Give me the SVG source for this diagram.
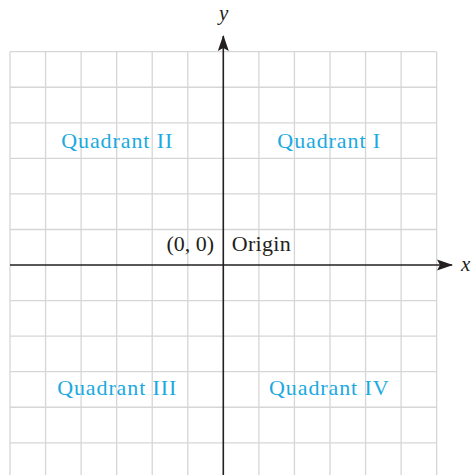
<svg xmlns="http://www.w3.org/2000/svg" width="472" height="475" viewBox="0 0 472 475">
<style>
.grid line{stroke:#d6d6d6;stroke-width:1.3}
.ax{stroke:#231f20;stroke-width:1.6;fill:none}
.q{font-family:"Liberation Serif","Times New Roman",serif;font-size:22px;fill:#1aa9e1;letter-spacing:0.9px;text-anchor:middle}
.t{font-family:"Liberation Serif","Times New Roman",serif;font-size:22px;fill:#231f20}
.v{font-family:"Liberation Serif","Times New Roman",serif;font-size:21px;font-style:italic;fill:#231f20}
</style>
<defs>
<marker id="ah" viewBox="0 0 16 12" refX="15" refY="6" markerWidth="16" markerHeight="12" markerUnits="userSpaceOnUse" orient="auto">
<path d="M0,0.5 L16,6 L0,11.5 L3,6 Z" fill="#231f20"/>
</marker>
</defs>
<rect width="472" height="475" fill="#fff"/>
<g class="grid" id="grid">
<line x1="10" y1="51.7" x2="10" y2="475"/>
<line x1="45.56" y1="51.7" x2="45.56" y2="475"/>
<line x1="81.11" y1="51.7" x2="81.11" y2="475"/>
<line x1="116.67" y1="51.7" x2="116.67" y2="475"/>
<line x1="152.22" y1="51.7" x2="152.22" y2="475"/>
<line x1="187.78" y1="51.7" x2="187.78" y2="475"/>
<line x1="258.89" y1="51.7" x2="258.89" y2="475"/>
<line x1="294.44" y1="51.7" x2="294.44" y2="475"/>
<line x1="330" y1="51.7" x2="330" y2="475"/>
<line x1="365.56" y1="51.7" x2="365.56" y2="475"/>
<line x1="401.11" y1="51.7" x2="401.11" y2="475"/>
<line x1="436.67" y1="51.7" x2="436.67" y2="475"/>
<line x1="10" y1="51.7" x2="436.67" y2="51.7"/>
<line x1="10" y1="87.26" x2="436.67" y2="87.26"/>
<line x1="10" y1="122.81" x2="436.67" y2="122.81"/>
<line x1="10" y1="158.37" x2="436.67" y2="158.37"/>
<line x1="10" y1="193.92" x2="436.67" y2="193.92"/>
<line x1="10" y1="229.48" x2="436.67" y2="229.48"/>
<line x1="10" y1="300.59" x2="436.67" y2="300.59"/>
<line x1="10" y1="336.14" x2="436.67" y2="336.14"/>
<line x1="10" y1="371.7" x2="436.67" y2="371.7"/>
<line x1="10" y1="407.26" x2="436.67" y2="407.26"/>
<line x1="10" y1="442.81" x2="436.67" y2="442.81"/>
</g>
<g id="connectors">
<line class="ax" x1="10" y1="265" x2="452" y2="265" marker-end="url(#ah)"/>
<line class="ax" x1="223.3" y1="475" x2="223.3" y2="36" marker-end="url(#ah)"/>
</g>
<g id="y-label"><text class="v" x="219" y="20">y</text></g>
<g id="x-label"><text class="v" x="461" y="271">x</text></g>
<g id="q1"><text class="q" x="329.2" y="147.7">Quadrant I</text></g>
<g id="q2"><text class="q" x="117.2" y="147.7">Quadrant II</text></g>
<g id="q3"><text class="q" x="117.2" y="395">Quadrant III</text></g>
<g id="q4"><text class="q" x="329.3" y="395">Quadrant IV</text></g>
<g id="origin-coords"><text class="t" x="166.5" y="251">(0, 0)</text></g>
<g id="origin"><text class="t" x="231.7" y="251" letter-spacing="0.3">Origin</text></g>
</svg>
